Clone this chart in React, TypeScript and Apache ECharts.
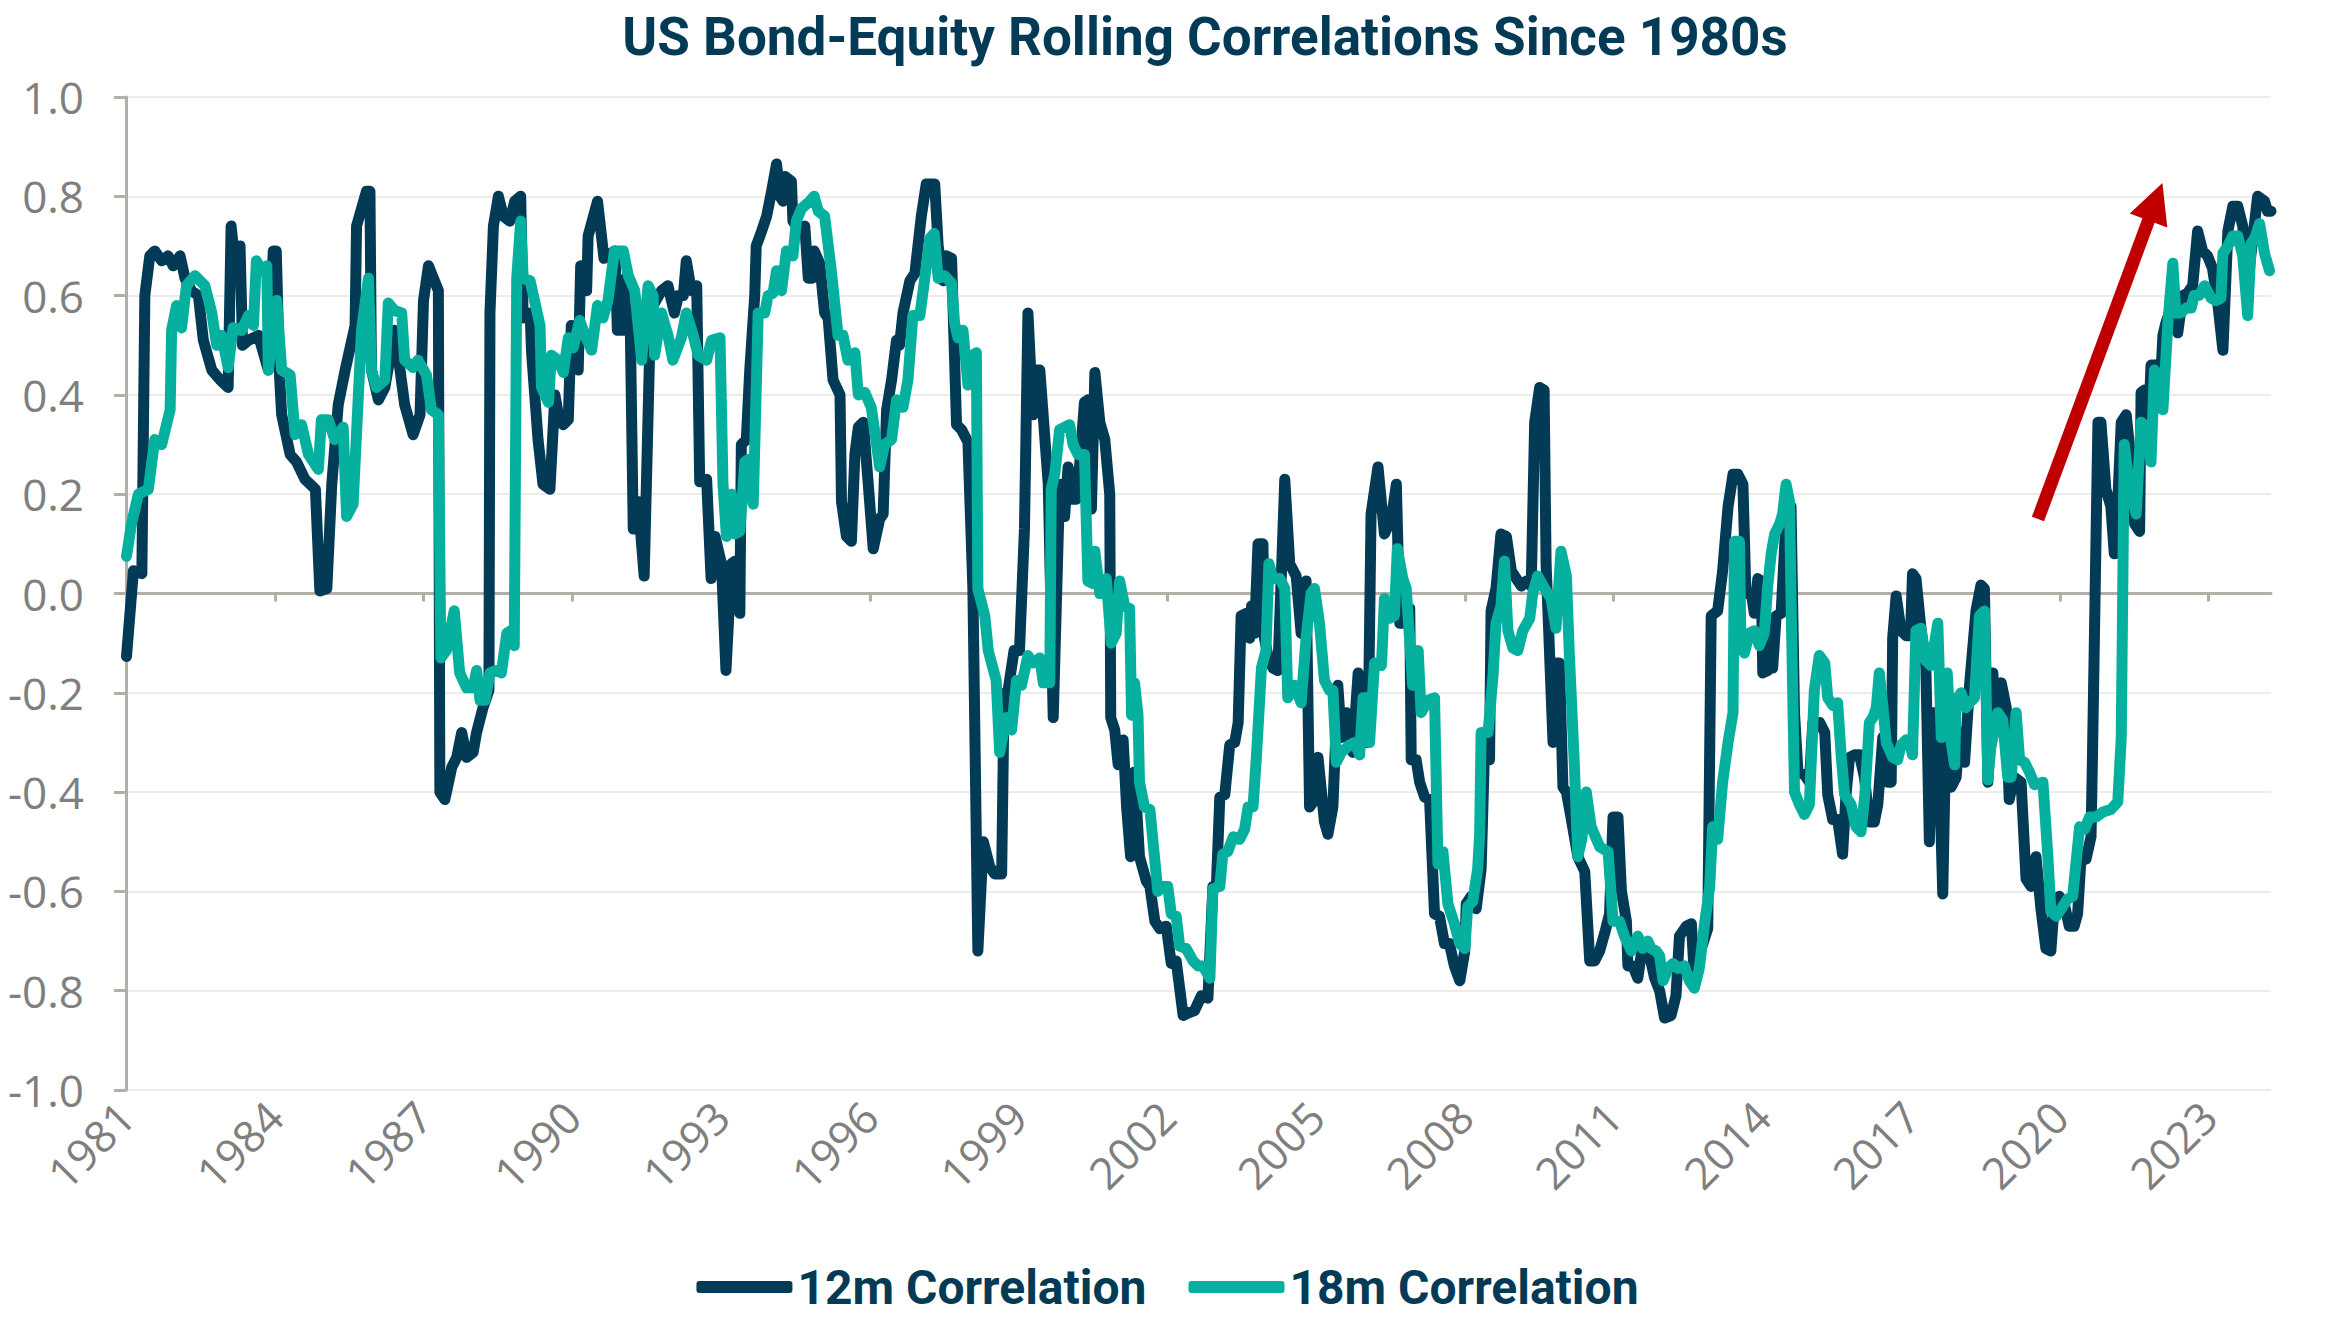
import React, { useEffect, useRef } from 'react';
import * as echarts from 'echarts';

const TITLE = 'US Bond-Equity Rolling Correlations Since 1980s';
const SERIES_NAMES = ['12m Correlation', '18m Correlation'];
const YEAR_TICKS = [1981, 1984, 1987, 1990, 1993, 1996, 1999, 2002, 2005, 2008, 2011, 2014, 2017, 2020, 2023];
const X_MIN = 1981;
const X_MAX = 2024.26;

// [year, correlation]
const corr12m: [number, number][] = [
  [1981.01, -0.127], [1981.15, 0.046], [1981.32, 0.04], [1981.38, 0.60], [1981.48, 0.68], [1981.58, 0.69],
  [1981.72, 0.67], [1981.85, 0.68], [1981.95, 0.66], [1982.09, 0.68], [1982.19, 0.635], [1982.32, 0.61],
  [1982.46, 0.60], [1982.56, 0.51], [1982.73, 0.45], [1982.90, 0.43], [1983.06, 0.415], [1983.12, 0.74],
  [1983.23, 0.635], [1983.30, 0.70], [1983.35, 0.50], [1983.47, 0.51], [1983.67, 0.52], [1983.87, 0.45],
  [1983.97, 0.69], [1984.03, 0.69], [1984.10, 0.43], [1984.14, 0.36], [1984.31, 0.28], [1984.44, 0.265],
  [1984.61, 0.23], [1984.82, 0.21], [1984.91, 0.005], [1985.05, 0.01], [1985.15, 0.22], [1985.28, 0.38],
  [1985.42, 0.45], [1985.62, 0.54], [1985.65, 0.74], [1985.85, 0.81], [1985.92, 0.81], [1985.95, 0.45],
  [1986.09, 0.39], [1986.22, 0.415], [1986.42, 0.53], [1986.62, 0.38], [1986.79, 0.32], [1986.93, 0.36],
  [1987.0, 0.59], [1987.10, 0.66], [1987.20, 0.635], [1987.30, 0.61], [1987.33, -0.40], [1987.43, -0.415],
  [1987.57, -0.35], [1987.67, -0.33], [1987.77, -0.28], [1987.87, -0.33], [1988.0, -0.32], [1988.07, -0.28],
  [1988.20, -0.23], [1988.32, -0.195], [1988.34, 0.565], [1988.41, 0.74], [1988.51, 0.80], [1988.61, 0.76],
  [1988.74, 0.75], [1988.84, 0.79], [1988.96, 0.80], [1989.01, 0.555], [1989.15, 0.565], [1989.18, 0.485],
  [1989.31, 0.31], [1989.41, 0.22], [1989.55, 0.21], [1989.65, 0.40], [1989.72, 0.36], [1989.82, 0.34],
  [1989.92, 0.35], [1989.98, 0.54], [1990.12, 0.45], [1990.17, 0.66], [1990.29, 0.61], [1990.32, 0.72],
  [1990.51, 0.79], [1990.64, 0.675], [1990.86, 0.69], [1990.91, 0.53], [1991.03, 0.53], [1991.07, 0.635],
  [1991.16, 0.61], [1991.23, 0.13], [1991.33, 0.185], [1991.45, 0.035], [1991.56, 0.485], [1991.63, 0.58],
  [1991.80, 0.61], [1991.93, 0.62], [1992.06, 0.565], [1992.14, 0.60], [1992.24, 0.60], [1992.30, 0.67],
  [1992.40, 0.61], [1992.51, 0.62], [1992.57, 0.225], [1992.71, 0.23], [1992.80, 0.03], [1992.88, 0.115],
  [1993.01, 0.06], [1993.10, -0.155], [1993.21, 0.06], [1993.28, 0.065], [1993.38, -0.04], [1993.41, 0.30],
  [1993.51, 0.31], [1993.58, 0.45], [1993.68, 0.60], [1993.71, 0.70], [1993.82, 0.73], [1993.92, 0.76],
  [1994.02, 0.81], [1994.12, 0.865], [1994.19, 0.80], [1994.25, 0.79], [1994.29, 0.84], [1994.42, 0.83],
  [1994.45, 0.75], [1994.59, 0.73], [1994.69, 0.74], [1994.76, 0.635], [1994.84, 0.635], [1994.88, 0.69],
  [1994.99, 0.665], [1995.09, 0.565], [1995.16, 0.555], [1995.26, 0.43], [1995.40, 0.40], [1995.43, 0.185],
  [1995.53, 0.115], [1995.63, 0.105], [1995.70, 0.28], [1995.77, 0.335], [1995.87, 0.345], [1995.97, 0.22],
  [1996.07, 0.09], [1996.20, 0.15], [1996.27, 0.16], [1996.34, 0.37], [1996.44, 0.43], [1996.54, 0.51],
  [1996.60, 0.50], [1996.67, 0.565], [1996.81, 0.63], [1996.91, 0.645], [1997.04, 0.76], [1997.14, 0.825],
  [1997.31, 0.825], [1997.38, 0.70], [1997.48, 0.63], [1997.55, 0.68], [1997.65, 0.675], [1997.75, 0.34],
  [1997.85, 0.33], [1997.98, 0.305], [1998.08, 0.01], [1998.18, -0.72], [1998.29, -0.50], [1998.42, -0.55],
  [1998.52, -0.565], [1998.66, -0.565], [1998.71, -0.20], [1998.79, -0.195], [1998.91, -0.115], [1999.02, -0.115],
  [1999.12, 0.13], [1999.19, 0.565], [1999.29, 0.36], [1999.36, 0.45], [1999.43, 0.45], [1999.60, 0.22],
  [1999.70, -0.25], [1999.83, 0.22], [1999.93, 0.155], [2000.0, 0.255], [2000.10, 0.19], [2000.17, 0.19],
  [2000.23, 0.255], [2000.33, 0.385], [2000.40, 0.39], [2000.47, 0.17], [2000.54, 0.445], [2000.64, 0.345],
  [2000.74, 0.31], [2000.84, 0.20], [2000.86, -0.25], [2000.94, -0.275], [2001.01, -0.345], [2001.11, -0.295],
  [2001.18, -0.43], [2001.26, -0.53], [2001.33, -0.36], [2001.38, -0.43], [2001.44, -0.53], [2001.58, -0.58],
  [2001.65, -0.59], [2001.75, -0.66], [2001.85, -0.675], [2001.98, -0.67], [2002.08, -0.745], [2002.18, -0.74],
  [2002.32, -0.85], [2002.42, -0.845], [2002.55, -0.84], [2002.69, -0.81], [2002.82, -0.815], [2002.92, -0.59],
  [2002.99, -0.59], [2003.06, -0.41], [2003.16, -0.405], [2003.26, -0.305], [2003.36, -0.30], [2003.43, -0.26],
  [2003.49, -0.045], [2003.59, -0.04], [2003.66, -0.09], [2003.70, -0.025], [2003.76, -0.08], [2003.83, 0.10],
  [2003.93, 0.10], [2003.96, -0.09], [2004.03, -0.125], [2004.13, -0.15], [2004.23, -0.155], [2004.30, 0.035],
  [2004.37, 0.23], [2004.47, 0.06], [2004.60, 0.035], [2004.70, -0.08], [2004.80, 0.025], [2004.87, -0.43],
  [2004.94, -0.42], [2005.04, -0.33], [2005.17, -0.46], [2005.24, -0.485], [2005.34, -0.43], [2005.44, -0.185],
  [2005.51, -0.29], [2005.61, -0.24], [2005.74, -0.32], [2005.85, -0.16], [2005.91, -0.185], [2005.95, -0.30],
  [2006.05, -0.30], [2006.11, 0.16], [2006.25, 0.255], [2006.38, 0.12], [2006.52, 0.15], [2006.62, 0.22],
  [2006.69, -0.06], [2006.79, -0.06], [2006.89, -0.03], [2006.92, -0.335], [2007.02, -0.335], [2007.09, -0.38],
  [2007.19, -0.41], [2007.29, -0.415], [2007.39, -0.645], [2007.49, -0.65], [2007.59, -0.705], [2007.69, -0.705],
  [2007.79, -0.75], [2007.90, -0.78], [2008.0, -0.72], [2008.03, -0.625], [2008.13, -0.61], [2008.23, -0.635],
  [2008.33, -0.555], [2008.40, -0.31], [2008.50, -0.335], [2008.53, -0.035], [2008.63, 0.01], [2008.73, 0.12],
  [2008.84, 0.115], [2008.94, 0.045], [2009.04, 0.03], [2009.14, 0.015], [2009.24, 0.025], [2009.34, 0.015],
  [2009.41, 0.345], [2009.51, 0.415], [2009.60, 0.41], [2009.64, 0.06], [2009.78, -0.30], [2009.84, -0.14],
  [2009.91, -0.14], [2009.98, -0.39], [2010.05, -0.40], [2010.15, -0.455], [2010.28, -0.53], [2010.42, -0.56],
  [2010.52, -0.74], [2010.62, -0.74], [2010.72, -0.72], [2010.82, -0.685], [2010.92, -0.645], [2010.99, -0.45],
  [2011.09, -0.45], [2011.16, -0.60], [2011.26, -0.66], [2011.29, -0.75], [2011.39, -0.75], [2011.49, -0.775],
  [2011.59, -0.705], [2011.73, -0.73], [2011.83, -0.775], [2011.93, -0.80], [2012.03, -0.855], [2012.16, -0.85],
  [2012.26, -0.81], [2012.33, -0.69], [2012.47, -0.67], [2012.57, -0.665], [2012.63, -0.77], [2012.77, -0.715],
  [2012.90, -0.675], [2012.97, -0.045], [2013.10, -0.035], [2013.20, 0.045], [2013.31, 0.175], [2013.41, 0.24],
  [2013.51, 0.24], [2013.61, 0.22], [2013.67, 0.0], [2013.78, 0.0], [2013.84, -0.04], [2013.91, 0.03],
  [2013.98, 0.025], [2014.01, -0.16], [2014.11, -0.155], [2014.15, -0.08], [2014.21, -0.15], [2014.28, -0.045],
  [2014.38, -0.04], [2014.48, 0.15], [2014.58, 0.175], [2014.65, -0.24], [2014.72, -0.36], [2014.85, -0.365],
  [2014.95, -0.38], [2015.02, -0.26], [2015.16, -0.26], [2015.26, -0.28], [2015.32, -0.405], [2015.42, -0.455],
  [2015.52, -0.455], [2015.62, -0.525], [2015.69, -0.405], [2015.76, -0.33], [2015.86, -0.325], [2015.96, -0.325],
  [2016.06, -0.37], [2016.16, -0.46], [2016.26, -0.46], [2016.33, -0.425], [2016.43, -0.29], [2016.53, -0.38],
  [2016.60, -0.38], [2016.63, -0.09], [2016.70, -0.005], [2016.80, -0.075], [2016.90, -0.085], [2016.99, -0.085],
  [2017.03, 0.04], [2017.10, 0.03], [2017.20, -0.07], [2017.30, -0.15], [2017.37, -0.50], [2017.44, -0.24],
  [2017.54, -0.24], [2017.64, -0.605], [2017.71, -0.24], [2017.81, -0.39], [2017.91, -0.37], [2017.98, -0.28],
  [2018.08, -0.34], [2018.18, -0.185], [2018.31, -0.035], [2018.41, 0.017], [2018.48, 0.01], [2018.55, -0.38],
  [2018.65, -0.16], [2018.72, -0.265], [2018.82, -0.18], [2018.92, -0.23], [2018.98, -0.415], [2019.08, -0.37],
  [2019.22, -0.38], [2019.32, -0.575], [2019.42, -0.59], [2019.52, -0.53], [2019.62, -0.635], [2019.72, -0.715],
  [2019.82, -0.72], [2019.89, -0.625], [2019.99, -0.61], [2020.09, -0.625], [2020.19, -0.67], [2020.29, -0.67],
  [2020.36, -0.645], [2020.43, -0.53], [2020.53, -0.535], [2020.63, -0.49], [2020.66, -0.325], [2020.73, 0.105],
  [2020.77, 0.345], [2020.83, 0.345], [2020.93, 0.21], [2021.03, 0.175], [2021.10, 0.08], [2021.17, 0.185],
  [2021.24, 0.345], [2021.34, 0.36], [2021.44, 0.265], [2021.51, 0.14], [2021.61, 0.125], [2021.64, 0.405],
  [2021.71, 0.41], [2021.77, 0.285], [2021.84, 0.46], [2021.94, 0.46], [2022.01, 0.38], [2022.08, 0.52],
  [2022.14, 0.545], [2022.24, 0.575], [2022.38, 0.525], [2022.48, 0.60], [2022.58, 0.605], [2022.68, 0.62],
  [2022.78, 0.73], [2022.88, 0.69], [2022.98, 0.68], [2023.08, 0.655], [2023.18, 0.59], [2023.29, 0.49],
  [2023.39, 0.73], [2023.49, 0.78], [2023.59, 0.78], [2023.69, 0.74], [2023.79, 0.625], [2023.99, 0.80],
  [2024.13, 0.79], [2024.19, 0.77], [2024.26, 0.77],
];

const corr18m: [number, number][] = [
  [1981.01, 0.075], [1981.11, 0.14], [1981.25, 0.20], [1981.45, 0.21], [1981.58, 0.31], [1981.72, 0.30],
  [1981.89, 0.37], [1981.92, 0.53], [1982.02, 0.58], [1982.12, 0.535], [1982.22, 0.62], [1982.39, 0.64],
  [1982.59, 0.62], [1982.73, 0.565], [1982.83, 0.50], [1982.93, 0.52], [1983.06, 0.455], [1983.16, 0.535],
  [1983.33, 0.53], [1983.47, 0.56], [1983.57, 0.54], [1983.63, 0.67], [1983.74, 0.65], [1983.84, 0.66],
  [1983.87, 0.45], [1984.04, 0.59], [1984.14, 0.45], [1984.31, 0.44], [1984.41, 0.32], [1984.54, 0.34],
  [1984.68, 0.28], [1984.88, 0.25], [1984.94, 0.35], [1985.08, 0.35], [1985.21, 0.31], [1985.38, 0.335],
  [1985.45, 0.155], [1985.58, 0.18], [1985.75, 0.53], [1985.89, 0.635], [1985.95, 0.45], [1986.05, 0.415],
  [1986.22, 0.43], [1986.29, 0.585], [1986.42, 0.57], [1986.56, 0.565], [1986.62, 0.47], [1986.79, 0.455],
  [1986.89, 0.47], [1987.06, 0.44], [1987.16, 0.37], [1987.30, 0.36], [1987.35, -0.13], [1987.46, -0.115],
  [1987.62, -0.035], [1987.73, -0.16], [1987.87, -0.19], [1988.0, -0.19], [1988.07, -0.155], [1988.14, -0.215],
  [1988.24, -0.215], [1988.34, -0.16], [1988.47, -0.155], [1988.57, -0.16], [1988.68, -0.08], [1988.76, -0.075],
  [1988.83, -0.105], [1988.88, 0.635], [1988.96, 0.75], [1989.01, 0.635], [1989.15, 0.63], [1989.35, 0.54],
  [1989.38, 0.415], [1989.52, 0.385], [1989.58, 0.48], [1989.72, 0.47], [1989.82, 0.445], [1989.92, 0.515],
  [1990.02, 0.495], [1990.15, 0.55], [1990.26, 0.52], [1990.39, 0.49], [1990.51, 0.58], [1990.62, 0.555],
  [1990.72, 0.59], [1990.85, 0.69], [1991.03, 0.69], [1991.13, 0.64], [1991.26, 0.61], [1991.40, 0.47],
  [1991.53, 0.62], [1991.63, 0.60], [1991.66, 0.48], [1991.80, 0.565], [1991.93, 0.52], [1992.03, 0.47],
  [1992.20, 0.515], [1992.30, 0.565], [1992.44, 0.52], [1992.54, 0.48], [1992.71, 0.47], [1992.81, 0.51],
  [1992.98, 0.515], [1993.04, 0.22], [1993.11, 0.115], [1993.21, 0.20], [1993.28, 0.12], [1993.38, 0.125],
  [1993.48, 0.265], [1993.55, 0.27], [1993.65, 0.18], [1993.75, 0.565], [1993.88, 0.565], [1993.95, 0.60],
  [1994.05, 0.605], [1994.12, 0.65], [1994.22, 0.61], [1994.32, 0.69], [1994.45, 0.68], [1994.52, 0.75],
  [1994.62, 0.775], [1994.79, 0.79], [1994.88, 0.80], [1994.96, 0.77], [1995.09, 0.76], [1995.23, 0.645],
  [1995.36, 0.52], [1995.46, 0.52], [1995.56, 0.47], [1995.70, 0.485], [1995.77, 0.40], [1995.90, 0.405],
  [1996.03, 0.375], [1996.20, 0.255], [1996.30, 0.30], [1996.44, 0.31], [1996.54, 0.39], [1996.67, 0.375],
  [1996.77, 0.43], [1996.87, 0.56], [1997.01, 0.56], [1997.11, 0.635], [1997.21, 0.715], [1997.30, 0.725],
  [1997.38, 0.635], [1997.51, 0.64], [1997.65, 0.625], [1997.71, 0.545], [1997.78, 0.515], [1997.88, 0.53],
  [1997.98, 0.42], [1998.08, 0.48], [1998.15, 0.485], [1998.18, 0.01], [1998.32, -0.045], [1998.39, -0.115],
  [1998.55, -0.175], [1998.62, -0.32], [1998.76, -0.25], [1998.86, -0.275], [1998.96, -0.175], [1999.06, -0.185],
  [1999.19, -0.125], [1999.29, -0.14], [1999.43, -0.13], [1999.50, -0.18], [1999.63, -0.18], [1999.66, 0.21],
  [1999.73, 0.24], [1999.83, 0.33], [2000.03, 0.34], [2000.10, 0.30], [2000.20, 0.28], [2000.33, 0.28],
  [2000.40, 0.025], [2000.50, 0.02], [2000.54, 0.085], [2000.64, 0.0], [2000.74, 0.0], [2000.77, 0.03],
  [2000.87, -0.10], [2000.97, -0.08], [2001.04, 0.025], [2001.14, -0.025], [2001.24, -0.03], [2001.28, -0.245],
  [2001.34, -0.18], [2001.41, -0.245], [2001.44, -0.38], [2001.54, -0.43], [2001.65, -0.435], [2001.81, -0.60],
  [2001.91, -0.59], [2002.01, -0.59], [2002.08, -0.645], [2002.18, -0.65], [2002.25, -0.71], [2002.38, -0.715],
  [2002.52, -0.74], [2002.62, -0.75], [2002.72, -0.75], [2002.86, -0.775], [2002.92, -0.595], [2003.06, -0.59],
  [2003.12, -0.525], [2003.22, -0.52], [2003.33, -0.49], [2003.46, -0.495], [2003.56, -0.475], [2003.63, -0.43],
  [2003.73, -0.43], [2003.80, -0.325], [2003.90, -0.15], [2003.99, -0.115], [2004.05, 0.06], [2004.13, 0.03],
  [2004.27, 0.03], [2004.37, 0.01], [2004.43, -0.21], [2004.57, -0.185], [2004.70, -0.22], [2004.80, -0.09],
  [2004.90, 0.0], [2004.97, 0.01], [2005.07, -0.06], [2005.17, -0.175], [2005.27, -0.195], [2005.34, -0.195],
  [2005.41, -0.34], [2005.51, -0.32], [2005.68, -0.305], [2005.78, -0.30], [2005.88, -0.325], [2005.95, -0.21],
  [2006.01, -0.21], [2006.08, -0.30], [2006.18, -0.14], [2006.32, -0.145], [2006.38, -0.01], [2006.48, -0.05],
  [2006.58, -0.045], [2006.64, 0.09], [2006.75, 0.03], [2006.82, 0.01], [2006.95, -0.185], [2007.06, -0.115],
  [2007.12, -0.24], [2007.26, -0.215], [2007.39, -0.21], [2007.46, -0.545], [2007.56, -0.52], [2007.66, -0.625],
  [2007.79, -0.665], [2007.90, -0.705], [2008.0, -0.715], [2008.06, -0.63], [2008.16, -0.62], [2008.26, -0.555],
  [2008.30, -0.485], [2008.33, -0.28], [2008.47, -0.28], [2008.57, -0.165], [2008.63, -0.06], [2008.73, -0.025],
  [2008.80, 0.065], [2008.87, -0.075], [2008.97, -0.11], [2009.07, -0.115], [2009.17, -0.075], [2009.31, -0.05],
  [2009.37, 0.0], [2009.47, 0.035], [2009.61, 0.01], [2009.74, -0.01], [2009.84, -0.07], [2009.94, 0.085],
  [2010.05, 0.035], [2010.11, -0.125], [2010.21, -0.345], [2010.28, -0.53], [2010.36, -0.495], [2010.45, -0.40],
  [2010.55, -0.47], [2010.72, -0.51], [2010.89, -0.52], [2010.99, -0.66], [2011.12, -0.66], [2011.22, -0.69],
  [2011.36, -0.72], [2011.49, -0.69], [2011.59, -0.715], [2011.69, -0.70], [2011.76, -0.715], [2011.86, -0.72],
  [2011.93, -0.73], [2012.0, -0.78], [2012.10, -0.755], [2012.20, -0.745], [2012.30, -0.755], [2012.43, -0.75],
  [2012.53, -0.78], [2012.63, -0.795], [2012.73, -0.755], [2012.83, -0.67], [2012.94, -0.59], [2013.00, -0.47],
  [2013.10, -0.495], [2013.20, -0.38], [2013.31, -0.30], [2013.41, -0.24], [2013.44, 0.105], [2013.54, 0.105],
  [2013.57, -0.105], [2013.64, -0.12], [2013.74, -0.08], [2013.84, -0.075], [2013.94, -0.105], [2014.04, -0.08],
  [2014.11, 0.015], [2014.18, 0.08], [2014.25, 0.12], [2014.35, 0.14], [2014.41, 0.16], [2014.48, 0.22],
  [2014.55, 0.185], [2014.58, -0.01], [2014.65, -0.40], [2014.75, -0.425], [2014.85, -0.445], [2014.95, -0.425],
  [2015.05, -0.195], [2015.15, -0.125], [2015.26, -0.14], [2015.32, -0.21], [2015.42, -0.225], [2015.52, -0.22],
  [2015.59, -0.325], [2015.66, -0.405], [2015.79, -0.425], [2015.89, -0.47], [2015.99, -0.48], [2016.07, -0.405],
  [2016.16, -0.26], [2016.23, -0.25], [2016.30, -0.23], [2016.36, -0.16], [2016.43, -0.225], [2016.50, -0.30],
  [2016.63, -0.33], [2016.73, -0.335], [2016.80, -0.305], [2016.90, -0.295], [2016.97, -0.30], [2017.03, -0.325],
  [2017.10, -0.075], [2017.20, -0.07], [2017.30, -0.135], [2017.40, -0.145], [2017.54, -0.06], [2017.61, -0.29],
  [2017.73, -0.16], [2017.81, -0.30], [2017.88, -0.345], [2017.91, -0.215], [2018.01, -0.20], [2018.11, -0.23],
  [2018.18, -0.22], [2018.28, -0.21], [2018.38, -0.045], [2018.48, -0.035], [2018.55, -0.375], [2018.61, -0.31],
  [2018.75, -0.24], [2018.85, -0.255], [2018.95, -0.37], [2019.02, -0.37], [2019.12, -0.24], [2019.19, -0.335],
  [2019.29, -0.34], [2019.39, -0.36], [2019.49, -0.385], [2019.66, -0.38], [2019.76, -0.53], [2019.82, -0.64],
  [2019.93, -0.65], [2020.03, -0.635], [2020.16, -0.615], [2020.26, -0.61], [2020.40, -0.47], [2020.50, -0.475],
  [2020.60, -0.45], [2020.73, -0.45], [2020.87, -0.44], [2021.03, -0.435], [2021.17, -0.42], [2021.24, -0.29],
  [2021.30, 0.30], [2021.40, 0.22], [2021.54, 0.16], [2021.64, 0.345], [2021.74, 0.335], [2021.84, 0.265],
  [2021.91, 0.45], [2021.97, 0.44], [2022.08, 0.37], [2022.18, 0.545], [2022.28, 0.665], [2022.34, 0.565],
  [2022.44, 0.565], [2022.55, 0.575], [2022.65, 0.575], [2022.71, 0.60], [2022.81, 0.60], [2022.92, 0.62],
  [2023.05, 0.595], [2023.15, 0.59], [2023.25, 0.595], [2023.29, 0.685], [2023.39, 0.70], [2023.49, 0.72],
  [2023.59, 0.72], [2023.69, 0.68], [2023.79, 0.56], [2023.86, 0.705], [2023.93, 0.715], [2024.03, 0.745],
  [2024.13, 0.685], [2024.23, 0.65],
];

// red trend arrow (data coordinates: from tail to head centre)
const ARROW_FROM: [number, number] = [2019.56, 0.15];
const ARROW_TO: [number, number] = [2021.93, 0.789];

const NAVY = '#033b57';
const TEAL = '#05b09f';
const RED = '#c00000';
const AXIS_GRAY = '#b3aea8';
const LABEL_GRAY = '#7f7f7f';

export default function App() {
  const ref = useRef<HTMLDivElement>(null);

  useEffect(() => {
    if (!ref.current) return;
    const chart = echarts.init(ref.current, null, { renderer: 'svg' });
    const option: any = {
      animation: false,
      backgroundColor: '#ffffff',
      textStyle: { fontFamily: 'Open Sans' },
      grid: { left: 126, right: 64, top: 97, bottom: 236, containLabel: false },
      graphic: [
        {
          type: 'text',
          x: 1205,
          y: 37,
          style: {
            text: TITLE,
            fill: NAVY,
            font: 'bold 53px Roboto',
            align: 'center',
            verticalAlign: 'middle',
          },
        },
      ],
      legend: {
        data: SERIES_NAMES,
        left: 'center',
        top: 1258,
        icon: 'roundRect',
        itemWidth: 96,
        itemHeight: 12,
        itemGap: 42,
        textStyle: { color: NAVY, fontFamily: 'Roboto', fontWeight: 'bold', fontSize: 48 },
      },
      xAxis: [
        {
          type: 'value',
          min: X_MIN,
          max: X_MAX,
          position: 'bottom',
          axisLine: { show: false, onZero: false },
          axisTick: { show: false },
          splitLine: { show: false },
          axisLabel: {
            customValues: YEAR_TICKS,
            rotate: 45,
            color: LABEL_GRAY,
            fontSize: 44,
            margin: 19,
            formatter: (v: number) => String(Math.round(v)),
          },
        },
        {
          type: 'value',
          min: X_MIN,
          max: X_MAX,
          position: 'top',
          axisLine: { show: true, onZero: true, lineStyle: { color: AXIS_GRAY, width: 3 } },
          axisTick: {
            show: true,
            inside: true,
            length: 8,
            customValues: YEAR_TICKS,
            lineStyle: { color: AXIS_GRAY, width: 3 },
          },
          axisLabel: { show: false },
          splitLine: { show: false },
        },
      ],
      yAxis: {
        type: 'value',
        min: -1,
        max: 1,
        interval: 0.2,
        axisLine: { show: true, onZero: false, lineStyle: { color: AXIS_GRAY, width: 3 } },
        axisTick: { show: true, length: 12, lineStyle: { color: AXIS_GRAY, width: 3 } },
        axisLabel: {
          color: LABEL_GRAY,
          fontSize: 44,
          margin: 42,
          formatter: (v: number) => (Math.abs(v) < 1e-9 ? '0.0' : v.toFixed(1)),
        },
        splitLine: { show: true, lineStyle: { color: '#ececec', width: 2 } },
      },
      series: [
        {
          name: SERIES_NAMES[0],
          type: 'line',
          xAxisIndex: 0,
          data: corr12m,
          showSymbol: false,
          symbol: 'none',
          color: NAVY,
          lineStyle: { color: NAVY, width: 11, join: 'round', cap: 'round' },
          itemStyle: { color: NAVY },
          z: 3,
        },
        {
          name: SERIES_NAMES[1],
          type: 'line',
          xAxisIndex: 0,
          data: corr18m,
          showSymbol: false,
          symbol: 'none',
          color: TEAL,
          lineStyle: { color: TEAL, width: 11, join: 'round', cap: 'round' },
          itemStyle: { color: TEAL },
          z: 4,
          markLine: {
            silent: true,
            animation: false,
            symbol: ['none', 'triangle'],
            symbolSize: [40, 40],
            label: { show: false },
            emphasis: { disabled: true },
            lineStyle: { color: RED, width: 13, type: 'solid', cap: 'butt' },
            itemStyle: { color: RED },
            data: [[{ coord: ARROW_FROM }, { coord: ARROW_TO }]],
          },
        },
      ],
    };
    chart.setOption(option);
    return () => chart.dispose();
  }, []);

  return (
    <div
      ref={ref}
      style={{ position: 'absolute', left: 0, top: 0, width: 2335, height: 1326 }}
    />
  );
}
